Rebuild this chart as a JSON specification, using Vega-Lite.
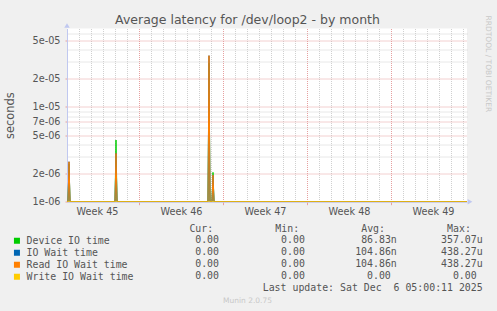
{
  "$schema": "https://vega.github.io/schema/vega-lite/v6.json",
  "autosize": {"type": "none"},
  "padding": {"left": 67, "top": 28.5, "right": 30, "bottom": 282.5},
  "background": "#f0f0f0",
  "bounds": "flush",
  "spacing": 31.6,
  "config": {
    "view": {"stroke": null},
    "font": "DejaVu Sans",
    "axis": {"labelFont": "DejaVu Sans", "titleFont": "DejaVu Sans", "labelColor": "#555555", "titleColor": "#555555", "titleFontWeight": "normal"}
  },
  "datasets": {
    "latency": [
      {"time": "2025-11-03T00:00:00Z", "series": "Device IO time", "seconds": 0},
      {"time": "2025-11-03T02:00:00Z", "series": "Device IO time", "seconds": 0},
      {"time": "2025-11-03T04:00:00Z", "series": "Device IO time", "seconds": 2.5e-6},
      {"time": "2025-11-03T06:00:00Z", "series": "Device IO time", "seconds": 0},
      {"time": "2025-11-07T00:00:00Z", "series": "Device IO time", "seconds": 0},
      {"time": "2025-11-07T02:00:00Z", "series": "Device IO time", "seconds": 4.48e-6},
      {"time": "2025-11-07T04:00:00Z", "series": "Device IO time", "seconds": 0},
      {"time": "2025-11-14T18:00:00Z", "series": "Device IO time", "seconds": 0},
      {"time": "2025-11-14T20:00:00Z", "series": "Device IO time", "seconds": 2.9e-5},
      {"time": "2025-11-14T22:00:00Z", "series": "Device IO time", "seconds": 0},
      {"time": "2025-11-15T02:00:00Z", "series": "Device IO time", "seconds": 0},
      {"time": "2025-11-15T04:00:00Z", "series": "Device IO time", "seconds": 2.04e-6},
      {"time": "2025-11-15T06:00:00Z", "series": "Device IO time", "seconds": 0},
      {"time": "2025-12-06T08:00:00Z", "series": "Device IO time", "seconds": 0},
      {"time": "2025-11-03T00:00:00Z", "series": "IO Wait time", "seconds": 0},
      {"time": "2025-11-03T02:00:00Z", "series": "IO Wait time", "seconds": 0},
      {"time": "2025-11-03T04:00:00Z", "series": "IO Wait time", "seconds": 2.64e-6},
      {"time": "2025-11-03T06:00:00Z", "series": "IO Wait time", "seconds": 0},
      {"time": "2025-11-07T00:00:00Z", "series": "IO Wait time", "seconds": 0},
      {"time": "2025-11-07T02:00:00Z", "series": "IO Wait time", "seconds": 3.24e-6},
      {"time": "2025-11-07T04:00:00Z", "series": "IO Wait time", "seconds": 0},
      {"time": "2025-11-14T18:00:00Z", "series": "IO Wait time", "seconds": 0},
      {"time": "2025-11-14T20:00:00Z", "series": "IO Wait time", "seconds": 3.48e-5},
      {"time": "2025-11-14T22:00:00Z", "series": "IO Wait time", "seconds": 0},
      {"time": "2025-11-15T02:00:00Z", "series": "IO Wait time", "seconds": 0},
      {"time": "2025-11-15T04:00:00Z", "series": "IO Wait time", "seconds": 1.91e-6},
      {"time": "2025-11-15T06:00:00Z", "series": "IO Wait time", "seconds": 0},
      {"time": "2025-12-06T08:00:00Z", "series": "IO Wait time", "seconds": 0},
      {"time": "2025-11-03T00:00:00Z", "series": "Read IO Wait time", "seconds": 0},
      {"time": "2025-11-03T02:00:00Z", "series": "Read IO Wait time", "seconds": 0},
      {"time": "2025-11-03T04:00:00Z", "series": "Read IO Wait time", "seconds": 2.64e-6},
      {"time": "2025-11-03T06:00:00Z", "series": "Read IO Wait time", "seconds": 0},
      {"time": "2025-11-07T00:00:00Z", "series": "Read IO Wait time", "seconds": 0},
      {"time": "2025-11-07T02:00:00Z", "series": "Read IO Wait time", "seconds": 3.24e-6},
      {"time": "2025-11-07T04:00:00Z", "series": "Read IO Wait time", "seconds": 0},
      {"time": "2025-11-14T18:00:00Z", "series": "Read IO Wait time", "seconds": 0},
      {"time": "2025-11-14T20:00:00Z", "series": "Read IO Wait time", "seconds": 3.48e-5},
      {"time": "2025-11-14T22:00:00Z", "series": "Read IO Wait time", "seconds": 0},
      {"time": "2025-11-15T02:00:00Z", "series": "Read IO Wait time", "seconds": 0},
      {"time": "2025-11-15T04:00:00Z", "series": "Read IO Wait time", "seconds": 1.91e-6},
      {"time": "2025-11-15T06:00:00Z", "series": "Read IO Wait time", "seconds": 0},
      {"time": "2025-12-06T08:00:00Z", "series": "Read IO Wait time", "seconds": 0},
      {"time": "2025-11-03T00:00:00Z", "series": "Write IO Wait time", "seconds": 0},
      {"time": "2025-12-06T08:00:00Z", "series": "Write IO Wait time", "seconds": 0}
    ],
    "stats": [
      {"series": "Device IO time", "cur": "0.00", "min": "0.00", "avg": "86.83n", "max": "357.07u"},
      {"series": "IO Wait time", "cur": "0.00", "min": "0.00", "avg": "104.86n", "max": "438.27u"},
      {"series": "Read IO Wait time", "cur": "0.00", "min": "0.00", "avg": "104.86n", "max": "438.27u"},
      {"series": "Write IO Wait time", "cur": "0.00", "min": "0.00", "avg": "0.00", "max": "0.00"}
    ]
  },
  "vconcat": [
    {
      "width": 400,
      "height": 173.2,
      "view": {"fill": "#ffffff", "stroke": null},
      "title": {"text": "Average latency for /dev/loop2 - by month", "anchor": "middle", "frame": "group", "dx": -19.5, "dy": 25.5, "offset": 4.5, "baseline": "alphabetic", "fontSize": 12.5, "font": "DejaVu Sans", "fontWeight": "normal", "color": "#555555"},
      "data": {"name": "latency"},
      "layer": [
        {
          "mark": {"type": "line", "opacity": 0, "invalid": "show"},
          "encoding": {
            "x": {"field": "time", "type": "temporal", "scale": {"type": "utc", "nice": false, "domain": [{"year": 2025, "month": 11, "date": 3, "utc": true}, {"year": 2025, "month": 12, "date": 6, "hours": 8, "utc": true}]}, "axis": null},
            "y": {"field": "seconds", "type": "quantitative", "scale": {"type": "log", "domain": [1e-6, 6.74e-5], "nice": false, "clamp": true},
              "axis": {"orient": "right", "values": [3e-6, 4e-6, 6e-6, 8e-6, 9e-6, 3e-5, 4e-5, 6e-5], "grid": true, "gridColor": "#d0d0d0", "gridDash": [1, 1], "labels": false, "ticks": false, "domain": false,
                "title": "RRDTOOL / TOBI OETIKER", "titleAngle": 90, "titleFontSize": 7.5, "titleColor": "#c8c8c8", "titleAlign": "left", "titleBaseline": "middle", "titleX": 20.5, "titleY": -13.5}}
          }
        },
        {
          "mark": {"type": "line", "opacity": 0, "invalid": "show"},
          "encoding": {
            "x": {"field": "time", "type": "temporal", "axis": null},
            "y": {"field": "seconds", "type": "quantitative",
              "axis": {"orient": "left", "values": [1e-6, 2e-6, 5e-6, 7e-6, 1e-5, 2e-5, 5e-5], "labelExpr": "replace(format(datum.value, '.0e'), 'e-', 'e-0')",
                "grid": true, "gridColor": "#e6a0a0", "gridDash": [1, 1], "ticks": true, "tickSize": 2, "tickColor": "#e6a0a0", "domain": true, "domainColor": "#c0c8f0",
                "labelFontSize": 9.7, "labelPadding": 5, "title": "seconds", "titleFontSize": 11.4, "titlePadding": 17}}
          }
        },
        {
          "mark": {"type": "line", "strokeWidth": 1, "clip": true, "invalid": "show"},
          "encoding": {
            "x": {"field": "time", "type": "temporal",
              "axis": {"orient": "bottom", "values": [1762214400000, 1762300800000, 1762387200000, 1762473600000, 1762560000000, 1762646400000, 1762732800000, 1762819200000, 1762905600000, 1762992000000, 1763078400000, 1763164800000, 1763251200000, 1763337600000, 1763424000000, 1763510400000, 1763596800000, 1763683200000, 1763769600000, 1763856000000, 1763942400000, 1764028800000, 1764115200000, 1764201600000, 1764288000000, 1764374400000, 1764460800000, 1764547200000, 1764633600000, 1764720000000, 1764806400000, 1764892800000, 1764979200000],
                "labelExpr": "utcday(datum.value) === 3 ? 'Week ' + utcFormat(datum.value, '%V') : ''", "labelOffset": 6,
                "grid": true, "gridColor": {"condition": {"test": "utcday(datum.value) === 0", "value": "#e6a0a0"}, "value": "#d0d0d0"}, "gridDash": [1, 1], "gridOpacity": 1,
                "ticks": true, "tickSize": 3, "tickColor": {"condition": {"test": "utcday(datum.value) === 0", "value": "#e6a0a0"}, "value": "transparent"},
                "domain": true, "domainColor": "#c0c8f0", "labelFontSize": 9.7, "labelPadding": 2, "labelFlush": false, "labelOverlap": false, "labelBound": false, "title": null}},
            "y": {"field": "seconds", "type": "quantitative", "axis": null},
            "color": {"field": "series", "type": "nominal",
              "scale": {"domain": ["Device IO time", "IO Wait time", "Read IO Wait time", "Write IO Wait time"], "range": ["#00cc00", "#0066b3", "#ff8000", "#ffcc00"]},
              "legend": {"orient": "none", "legendX": -55, "legendY": 207.3, "direction": "vertical", "title": null, "padding": 0, "symbolType": "square", "symbolSize": 36, "symbolStrokeWidth": 0,
                "labelFont": "DejaVu Sans Mono", "labelFontSize": 9.9, "labelColor": "#555555", "labelOffset": 4.6, "rowPadding": 1,
                "encode": {"symbols": {"update": {"fill": {"scale": "color", "field": "value"}, "opacity": {"value": 1}}}}}}
          }
        },
        {
          "data": {"values": [{"time": "2025-11-03T00:00:00Z", "seconds": 6.74e-5}]},
          "mark": {"type": "point", "shape": "triangle-up", "size": 30, "filled": true, "color": "#c0c8f0", "opacity": 1, "yOffset": -3, "clip": false},
          "encoding": {
            "x": {"field": "time", "type": "temporal", "axis": null},
            "y": {"field": "seconds", "type": "quantitative", "axis": null}
          }
        },
        {
          "data": {"values": [{"time": "2025-12-06T08:00:00Z", "seconds": 1e-6}]},
          "mark": {"type": "point", "shape": "triangle-right", "size": 30, "filled": true, "color": "#c0c8f0", "opacity": 1, "xOffset": 3, "clip": false},
          "encoding": {
            "x": {"field": "time", "type": "temporal", "axis": null},
            "y": {"field": "seconds", "type": "quantitative", "axis": null}
          }
        }
      ],
      "resolve": {"axis": {"x": "independent", "y": "independent"}}
    },
    {
      "width": 400,
      "height": 60,
      "view": {"fill": null, "stroke": null},
      "title": {"text": "Munin 2.0.75", "orient": "bottom", "anchor": "middle", "frame": "group", "dx": -19.5, "offset": 3, "fontSize": 7.5, "font": "DejaVu Sans", "fontWeight": "normal", "color": "#c8c8c8"},
      "layer": [
        {
          "data": {"name": "stats"},
          "transform": [{"fold": ["cur", "min", "avg", "max"], "as": ["stat", "value"]}, {"filter": "test(/[a-z]$/, datum.value)"}],
          "mark": {"type": "text", "align": "right", "baseline": "middle", "font": "DejaVu Sans Mono", "fontSize": 9.9, "color": "#555555"},
          "encoding": {
            "x": {"field": "stat", "type": "nominal", "scale": {"type": "point", "domain": ["cur", "min", "avg", "max"], "range": [158, 415.7], "padding": 0},
              "axis": {"orient": "top", "title": null, "domain": false, "ticks": false, "labelAngle": 0, "labelAlign": "right", "labelOffset": -12.3, "labelPadding": 1,
                "labelFont": "DejaVu Sans Mono", "labelFontSize": 9.9, "labelColor": "#555555",
                "labelExpr": "upper(slice(datum.value, 0, 1)) + slice(datum.value, 1) + ':'"}},
            "y": {"field": "series", "type": "nominal", "scale": {"type": "point", "domain": ["Device IO time", "IO Wait time", "Read IO Wait time", "Write IO Wait time", "update"], "padding": 0.5}, "axis": null},
            "text": {"field": "value"}
          }
        },
        {
          "data": {"name": "stats"},
          "transform": [{"fold": ["cur", "min", "avg", "max"], "as": ["stat", "value"]}, {"filter": "!test(/[a-z]$/, datum.value)"}],
          "mark": {"type": "text", "align": "right", "baseline": "middle", "dx": -6, "font": "DejaVu Sans Mono", "fontSize": 9.9, "color": "#555555"},
          "encoding": {
            "x": {"field": "stat", "type": "nominal"},
            "y": {"field": "series", "type": "nominal"},
            "text": {"field": "value"}
          }
        },
        {
          "data": {"values": [{"row": "update", "stat": "max", "line": "Last update: Sat Dec \u00a06 05:00:11 2025"}]},
          "mark": {"type": "text", "align": "right", "baseline": "middle", "font": "DejaVu Sans Mono", "fontSize": 9.9, "color": "#555555"},
          "encoding": {
            "x": {"field": "stat", "type": "nominal"},
            "y": {"field": "row", "type": "nominal"},
            "text": {"field": "line"}
          }
        }
      ]
    }
  ]
}
